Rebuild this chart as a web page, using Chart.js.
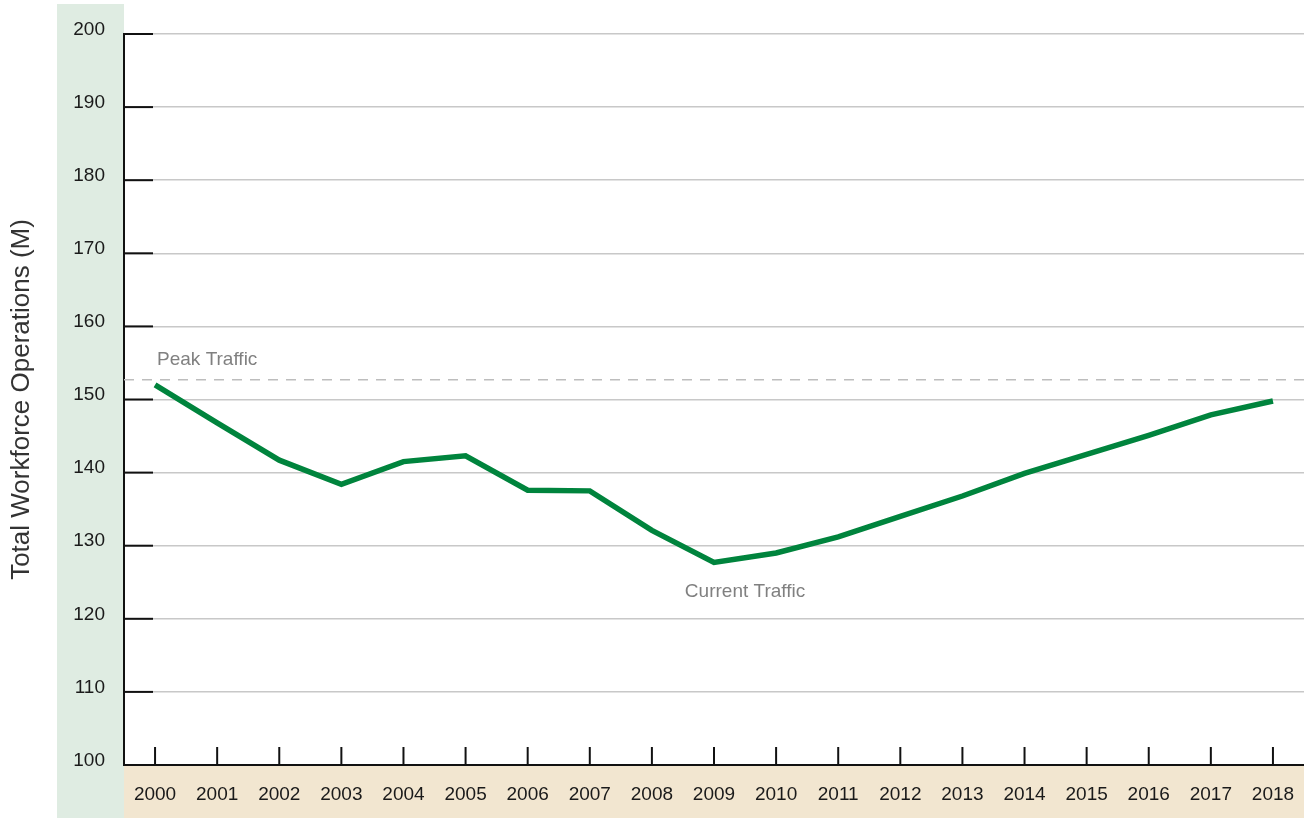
<!DOCTYPE html>
<html>
<head>
<meta charset="utf-8">
<script src="https://cdn.jsdelivr.net/npm/chart.js@4.4.1/dist/chart.umd.min.js"></script>
<style>
   html, body { margin: 0; padding: 0; background: #fff; }
   #wrap { position: relative; width: 1304px; height: 818px; }
</style>
</head>
<body>
<div id="wrap"><canvas id="chart"></canvas></div>
<script>
// values
const years = ['2000','2001','2002','2003','2004','2005','2006','2007','2008','2009',
               '2010','2011','2012','2013','2014','2015','2016','2017','2018'];
const operations = [152.0, 146.8, 141.7, 138.4, 141.5, 142.3, 137.6, 137.5, 132.1, 127.7,
                    129.0, 131.2, 134.0, 136.8, 139.9, 142.5, 145.1, 147.9, 149.8];
const peakTraffic = 152.7;
const yTicks = [100, 110, 120, 130, 140, 150, 160, 170, 180, 190, 200];

const FONT = '"Liberation Sans", Arial, Helvetica, sans-serif';

// colored bands behind the axes + inward tick marks + annotations
const decorPlugin = {
   id: 'decor',
   beforeDraw(chart){
      const ctx = chart.ctx;
      const area = chart.chartArea;
      ctx.save();
      ctx.fillStyle = '#dfece2';
      ctx.fillRect(57, 4, area.left - 57, chart.height - 4);
      ctx.fillStyle = '#f2e6d0';
      ctx.fillRect(area.left, area.bottom, chart.width - area.left, chart.height - area.bottom);
      ctx.restore();
   },
   afterDatasetsDraw(chart){
      const ctx = chart.ctx;
      const area = chart.chartArea;
      const x = chart.scales.x;
      const y = chart.scales.y;
      ctx.save();

      //Peak line, dashed
      let peakY = y.getPixelForValue(peakTraffic);
      ctx.strokeStyle = '#bdbdbd';
      ctx.lineWidth = 1.5;
      ctx.setLineDash([10, 8]);
      ctx.beginPath();
      ctx.moveTo(area.left, peakY);
      ctx.lineTo(area.right, peakY);
      ctx.stroke();
      ctx.setLineDash([]);

      //black ticks pointing into the plot
      ctx.strokeStyle = '#111';
      ctx.lineWidth = 2;
      yTicks.forEach((v)=>{
         let py = y.getPixelForValue(v);
         ctx.beginPath();
         ctx.moveTo(area.left, py);
         ctx.lineTo(area.left + 29, py);
         ctx.stroke();
      });
      years.forEach((yr, i)=>{
         let px = x.getPixelForValue(i);
         ctx.beginPath();
         ctx.moveTo(px, area.bottom);
         ctx.lineTo(px, area.bottom - 18);
         ctx.stroke();
      });

      //labels
      ctx.fillStyle = '#808080';
      ctx.font = '19px ' + FONT;
      ctx.textBaseline = 'middle';
      ctx.textAlign = 'left';
      ctx.fillText('Peak Traffic', x.getPixelForValue(0) + 2, y.getPixelForValue(155.5));
      ctx.textAlign = 'center';
      ctx.fillText('Current Traffic', x.getPixelForValue(9.5), y.getPixelForValue(123.7));
      ctx.restore();
   }
};

new Chart(document.getElementById('chart').getContext('2d'), {
   type: 'line',
   data: {
      labels: years,
      datasets: [{
         data: operations,
         borderColor: '#00843d',
         borderWidth: 5.5,
         pointRadius: 0,
         tension: 0,
         fill: false
      }]
   },
   options: {
      responsive: true,
      maintainAspectRatio: false,
      animation: false,
      layout: { padding: { top: 34, right: 0, bottom: 0, left: 0 } },
      plugins: { legend: { display: false }, tooltip: { enabled: false } },
      scales: {
         x: {
            offset: true,
            grid: { display: false, drawTicks: false },
            border: { display: true, color: '#111', width: 2 },
            ticks: { color: '#1a1a1a', font: { family: FONT, size: 19 }, padding: 18, maxRotation: 0, autoSkip: false },
            afterFit(scale){
               scale.height = 53;
               // no extra room for the last label, plot goes to the edge
               scale.paddingRight = 0;
               scale.paddingLeft = 0;
            }
         },
         y: {
            min: 100,
            max: 200,
            grid: { color: '#c8c8c8', lineWidth: 1.5, drawTicks: false },
            border: { display: true, color: '#111', width: 2 },
            ticks: { stepSize: 10, color: '#1a1a1a', font: { family: FONT, size: 19 }, padding: 19, labelOffset: -4.5 },
            title: {
               display: true,
               text: 'Total Workforce Operations (M)',
               color: '#333',
               font: { family: FONT, size: 26 },
               padding: { top: 6, bottom: 0 }
            },
            afterFit(scale){ scale.width = 124; }
         }
      }
   },
   plugins: [decorPlugin]
});
</script>
</body>
</html>
